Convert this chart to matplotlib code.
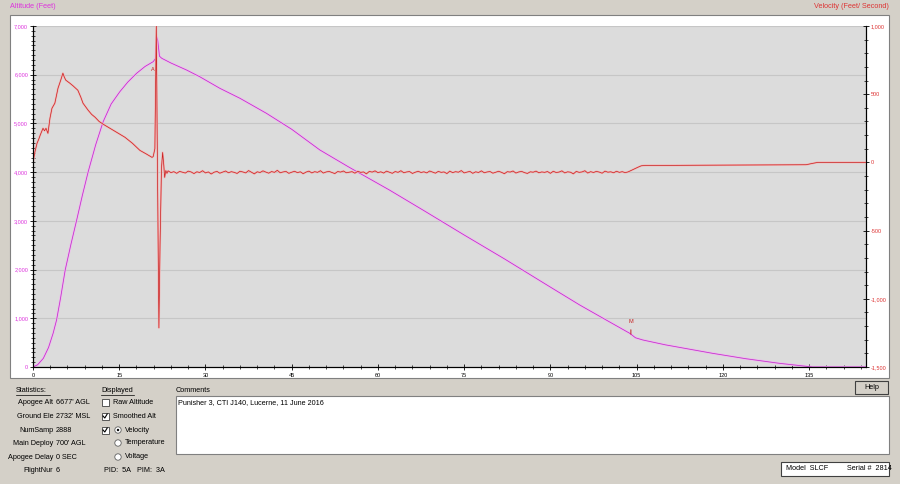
import numpy as np
import matplotlib
matplotlib.use('Agg')
from matplotlib import pyplot as plt
from matplotlib.patches import Rectangle, Circle
from matplotlib.ticker import MultipleLocator, FuncFormatter

plt.rcParams['font.family'] = ['Liberation Sans', 'DejaVu Sans']

# altitude (smoothed), feet AGL
alt_t = [0, 0.8, 1.8, 2.7, 3.5, 4.1, 4.8, 5.6, 6.6, 7.6, 8.6, 9.6, 10.9, 12.2, 13.6,
         15.1, 16.5, 18.0, 19.5, 20.9, 21.3, 21.5, 21.7, 22.0, 22.4, 24.0, 26.7, 29.0,
         32.5, 36.0, 40.6, 45.0, 49.9, 55.0, 62.0, 68.0, 75.0, 82.0, 90.0, 95.1, 99.7,
         103.8, 104.8, 106.1, 110.0, 118.2, 124.0, 129.8, 135.6, 144.9]
alt_ft = [0, 45, 178, 400, 692, 965, 1420, 1991, 2520, 3018, 3530, 4009, 4560, 5035, 5400,
          5651, 5850, 6027, 6170, 6267, 6330, 6780, 6700, 6380, 6337, 6240, 6097, 5959,
          5721, 5516, 5208, 4880, 4455, 4100, 3633, 3210, 2710, 2220, 1640, 1273, 965,
          692, 600, 554, 455, 281, 170, 76, 0, 0]

# velocity, feet/second: boost + coast, ejection, drogue, main
boost_t = [0, 0.35, 0.7, 1.0, 1.3, 1.74, 2.0, 2.26, 2.6, 2.95, 3.3, 3.8, 4.35, 4.8, 5.2,
           5.45, 5.7, 6.4, 7.0, 7.8, 8.3, 8.7, 9.2, 9.6, 10.2, 10.8, 11.5, 12.4, 13.4,
           14.5, 16.0, 17.3, 18.6, 19.7, 20.7, 20.9]
boost_v = [0, 80, 140, 170, 205, 250, 232, 250, 213, 324, 397, 434, 544, 600, 654,
           625, 603, 581, 560, 529, 480, 434, 405, 382, 352, 331, 300, 275, 250,
           222, 184, 140, 88, 62, 37, 42]
eject_t = [21.2, 21.45, 21.6, 21.9, 22.1, 22.35, 22.55, 22.75, 22.9, 23.1, 23.3]
eject_v = [100, 1000, 200, -1213, -600, -40, 73, -20, -110, -60, -80]
drogue_v = [
    -62, -75, -68, -80, -66, -72, -78, -64, -70, -82, -69, -74, -61, -77, -70, -85,
    -72, -66, -79, -71, -63, -76, -68, -73, -81, -65, -70, -77, -60, -72, -84, -69,
    -74, -62, -71, -79, -67, -73, -58, -76, -70, -66, -80, -72, -65, -75, -69, -83,
    -71, -64, -77, -68, -73, -61, -78, -70, -66, -74, -82, -67, -71, -63, -76, -72,
    -68, -79, -65, -73, -70, -84, -66, -71, -62, -75, -69, -78, -64, -72, -80, -67,
    -73, -61, -76, -70, -67, -81, -72, -65, -74, -69, -77, -63, -71, -79, -66, -73,
    -70, -82, -64, -75, -68, -72, -60, -77, -71, -66, -80, -69, -74, -62, -76, -70,
    -67, -79, -72, -65, -73, -83, -68, -71, -63, -78, -70, -66, -75, -81, -69, -72,
    -64, -76, -70, -73, -67, -80, -65, -74, -71, -62, -77, -69, -72, -84, -66, -73,
    -70, -61, -78, -68, -74, -66, -71, -79, -64, -72, -69, -76, -65, -73, -68, -75, -70]
main_t = [104.6, 105.2, 105.8, 106.5, 110, 115, 120, 125, 130, 134.5, 135.5, 136.5, 144.9]
main_v = [-48, -36, -25, -22, -22, -21, -20, -19, -18, -17, -8, 0, 0]

events = ['A', 'M']
event_t = [21.1, 104.0]

stats_labels = ['Apogee Alt', 'Ground Ele', 'NumSamp', 'Main Deploy', 'Apogee Delay', 'FlightNur']
stats_values = ["6677' AGL", "2732' MSL", '2888', "700' AGL", '0 SEC', '6']
comment = 'Punisher 3, CTI J140, Lucerne, 11 June 2016'

drogue_t = np.linspace(23.5, 103.5, len(drogue_v))
vel_t = np.concatenate([boost_t, eject_t, drogue_t, main_t])
vel_v = np.concatenate([boost_v, eject_v, drogue_v, main_v])

W, H = 900, 484
BG = '#d4d0c8'
MAG = '#c030c8'
RED = '#c81e1e'

fig = plt.figure(figsize=(W / 100, H / 100), dpi=100, facecolor=BG)


def box(x0, y0, x1, y1):
    return [x0 / W, 1 - y1 / H, (x1 - x0) / W, (y1 - y0) / H]


# overlay for window chrome, in pixel coords
ov = fig.add_axes([0, 0, 1, 1], zorder=0)
ov.set_xlim(0, W)
ov.set_ylim(H, 0)
ov.axis('off')

ov.add_patch(Rectangle((10, 15), 879, 363, fc='white', ec='#808080', lw=0.8))
ov.text(10, 7, 'Altitude (Feet)', color='#dd33dd', fontsize=5.2, va='center')
ov.text(889, 7, 'Velocity (Feet/ Second)', color='#dd3333', fontsize=5.2, va='center', ha='right')

# plot
ax = fig.add_axes(box(33, 26, 866, 367), zorder=1)
ax.set_facecolor('#dcdcdc')
ax.plot(alt_t, alt_ft, color='#f0b8f0', lw=1.6, solid_capstyle='round')
ax.plot(alt_t, alt_ft, color=MAG, lw=0.55)
ax.set_xlim(0, 144.9)
ax.set_ylim(0, 7000)
ax.yaxis.set_major_locator(MultipleLocator(1000))
ax.yaxis.set_minor_locator(MultipleLocator(100))
ax.xaxis.set_major_locator(MultipleLocator(15))
ax.xaxis.set_minor_locator(MultipleLocator(3))
ax.yaxis.set_major_formatter(FuncFormatter(lambda v, p: '{:,.0f}'.format(v)))
ax.grid(axis='y', color='#c6c6c6', lw=0.8)
ax.set_axisbelow(True)
ax.tick_params(axis='y', which='major', direction='inout', length=5, width=0.6,
               labelsize=4, labelcolor='#dd33dd', pad=1)
ax.tick_params(axis='y', which='minor', direction='inout', length=2.5, width=0.5)
ax.tick_params(axis='x', which='major', direction='inout', length=5, width=0.6,
               labelsize=4, pad=1.5)
ax.tick_params(axis='x', which='minor', direction='inout', length=3, width=0.5)
for s in ['left', 'bottom', 'right']:
    ax.spines[s].set_linewidth(0.8)
ax.spines['top'].set_visible(False)

for name, t in zip(events, event_t):
    a = np.interp(t, alt_t, alt_ft)
    if name == 'A':
        ax.annotate(name, (t, a), xytext=(-1, -7), textcoords='offset points',
                    color=RED, fontsize=4, ha='center', va='center')
    else:
        ax.annotate(name, (t, a), xytext=(0, 9), textcoords='offset points',
                    color=RED, fontsize=4, ha='center', va='center',
                    arrowprops=dict(arrowstyle='-', color=RED, lw=0.7, shrinkA=2, shrinkB=0))

ax2 = ax.twinx()
ax2.set_zorder(2)
ax2.patch.set_visible(False)
ax2.plot(vel_t, vel_v, color='#f2b4b4', lw=1.4)
ax2.plot(vel_t, vel_v, color=RED, lw=0.5)
ax2.set_ylim(-1500, 1000)
ax2.yaxis.set_major_locator(MultipleLocator(500))
ax2.yaxis.set_minor_locator(MultipleLocator(100))
ax2.yaxis.set_major_formatter(FuncFormatter(lambda v, p: '{:,.0f}'.format(v)))
ax2.tick_params(axis='y', which='major', direction='inout', length=5, width=0.6,
                labelsize=4, labelcolor='#dd3333', pad=1)
ax2.tick_params(axis='y', which='minor', direction='inout', length=2.5, width=0.5)
ax2.spines['top'].set_visible(False)
ax2.spines['right'].set_linewidth(0.8)

# bottom panel
fs = 5.2
ov.text(16, 390, 'Statistics:', fontsize=fs, va='center')
ov.plot([16, 50], [394.5, 394.5], color='black', lw=0.5)
for i, (lab, val) in enumerate(zip(stats_labels, stats_values)):
    y = 403 + i * 13.6
    ov.text(53.5, y, lab, fontsize=fs, va='center', ha='right')
    ov.text(56, y, val, fontsize=fs, va='center')

ov.text(101, 390, 'Displayed', fontsize=fs, va='center')
ov.plot([101, 134], [394.5, 394.5], color='black', lw=0.5)
for y, lab, checked in [(402, 'Raw Altitude', False), (416, 'Smoothed Alt', True), (430, None, True)]:
    ov.add_patch(Rectangle((101.5, y - 3.5), 7, 7, fc='white', ec='#404040', lw=0.6))
    if checked:
        ov.plot([103, 104.8, 107.2], [y, y + 2, y - 2], color='black', lw=0.8)
    if lab:
        ov.text(113, y, lab, fontsize=fs, va='center')
for y, lab, sel in [(430, 'Velocity', True), (443, 'Temperature', False), (457, 'Voltage', False)]:
    ov.add_patch(Circle((118, y), 3.2, fc='white', ec='#606060', lw=0.6))
    if sel:
        ov.add_patch(Circle((118, y), 1.2, fc='black', ec='none'))
    ov.text(125, y, lab, fontsize=fs, va='center')
ov.text(104, 470.5, 'PID:  5A', fontsize=fs, va='center')
ov.text(137, 470.5, 'PIM:  3A', fontsize=fs, va='center')

ov.text(176, 390, 'Comments', fontsize=fs, va='center')
ov.add_patch(Rectangle((176, 396), 713, 58, fc='white', ec='#808080', lw=0.8))
ov.text(178.5, 403, comment, fontsize=fs, va='center')

ov.add_patch(Rectangle((855, 381), 33, 13, fc=BG, ec='#404040', lw=0.8))
ov.text(871.5, 387.5, 'Help', fontsize=fs, va='center', ha='center')

ov.add_patch(Rectangle((781, 462), 108, 14, fc='white', ec='#404040', lw=0.8))
ov.text(786, 469, 'Model  SLCF', fontsize=fs, va='center')
ov.text(847, 469, 'Serial #  2814', fontsize=fs, va='center')

fig.savefig('out.png', dpi=100, facecolor=BG)
